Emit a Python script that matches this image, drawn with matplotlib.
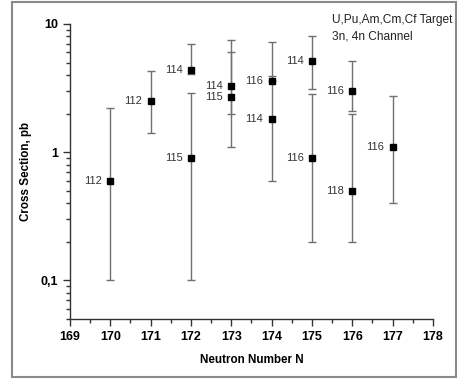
import matplotlib.pyplot as plt
from matplotlib.patches import Rectangle
from matplotlib.ticker import FixedLocator, FuncFormatter, LogLocator, NullFormatter

plt.rcParams["font.family"] = ["Liberation Sans", "DejaVu Sans"]

# neutron number, cross section (pb), lower/upper error-bar ends, element Z
neutrons = [170, 171, 172, 172, 173, 173, 174, 174, 175, 175, 176, 176, 177]
sigma = [0.6, 2.5, 4.4, 0.9, 3.3, 2.7, 3.6, 1.8, 5.1, 0.9, 3.0, 0.5, 1.1]
sigma_low = [0.1, 1.4, 4.1, 0.1, 2.0, 1.1, 3.6, 0.6, 3.1, 0.2, 2.1, 0.2, 0.4]
sigma_high = [2.2, 4.3, 7.0, 2.9, 7.5, 6.0, 7.2, 3.95, 8.0, 2.85, 5.1, 2.0, 2.75]
z_labels = ["112", "112", "114", "115", "114", "115", "116", "114", "114", "116", "116", "118", "116"]

fig = plt.figure(figsize=(4.59, 3.79), dpi=100)
ax = fig.add_axes([0.1525, 0.1583, 0.7905, 0.7784])

err_lo = [s - lo for s, lo in zip(sigma, sigma_low)]
err_hi = [hi - s for s, hi in zip(sigma, sigma_high)]
ax.errorbar(
    neutrons, sigma, yerr=[err_lo, err_hi], fmt="none",
    ecolor="#707070", elinewidth=1.0, capsize=3, capthick=1.0, zorder=2,
)
ax.plot(neutrons, sigma, "s", color="black", markersize=4, zorder=3)

for n, s, lab in zip(neutrons, sigma, z_labels):
    ax.annotate(lab, (n, s), xytext=(-6, 0), textcoords="offset points",
                ha="right", va="center", fontsize=8, color="#333333")

ax.set_yscale("log")
ax.set_xlim(169, 178)
ax.set_ylim(0.05, 10)

ax.xaxis.set_major_locator(FixedLocator(range(169, 179)))
ax.xaxis.set_minor_locator(FixedLocator([x + 0.5 for x in range(169, 178)]))
ax.yaxis.set_major_locator(FixedLocator([0.1, 1, 10]))
ax.yaxis.set_minor_locator(LogLocator(base=10, subs=range(2, 10)))
ax.yaxis.set_minor_formatter(NullFormatter())
ax.yaxis.set_major_formatter(FuncFormatter(lambda v, p: {0.1: "0,1", 1: "1", 10: "10"}.get(round(v, 2), "")))

for spine in ["top", "right"]:
    ax.spines[spine].set_visible(False)
for spine in ["left", "bottom"]:
    ax.spines[spine].set_color("#333333")
    ax.spines[spine].set_linewidth(1.0)

ax.tick_params(which="major", direction="out", length=5, width=1, color="#333333", labelsize=9)
ax.tick_params(which="minor", direction="out", length=3, width=1, color="#333333")
for lbl in ax.get_xticklabels() + ax.get_yticklabels():
    lbl.set_fontweight("bold")

ax.set_xlabel("Neutron Number N", fontsize=8.4, fontweight="bold", labelpad=8)
ax.set_ylabel("Cross Section, pb", fontsize=8.4, fontweight="bold", labelpad=6)

fig.text(0.723, 0.946, "U,Pu,Am,Cm,Cf Target", fontsize=8.6, color="#222222", va="center")
fig.text(0.723, 0.905, "3n, 4n Channel", fontsize=8.6, color="#222222", va="center")

fig.patches.append(Rectangle((12 / 459, 2 / 379), 444 / 459, 375 / 379, transform=fig.transFigure,
                             fill=False, edgecolor="#8a8a8a", linewidth=1.5))

fig.savefig("out.png", dpi=100)
